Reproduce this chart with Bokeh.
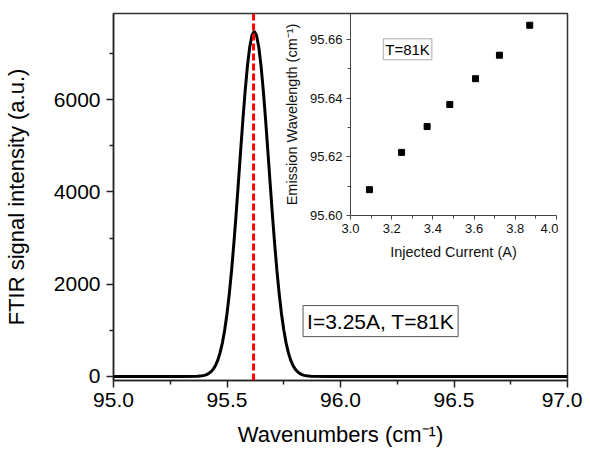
from bokeh.plotting import figure
from bokeh.models import Range1d, FixedTicker, PrintfTickFormatter, Span, Label
from bokeh.embed import file_html
from bokeh.resources import INLINE

# ---- data: FTIR spectrum ----
wavenumber = [95.00, 95.20, 95.30, 95.37, 95.38, 95.39, 95.40, 95.41, 95.42, 95.43, 95.44,
              95.45, 95.46, 95.47, 95.48, 95.49, 95.50, 95.51, 95.52, 95.53, 95.54,
              95.55, 95.56, 95.57, 95.58, 95.59, 95.60, 95.61, 95.62, 95.63, 95.64,
              95.65, 95.66, 95.67, 95.68, 95.69, 95.70, 95.71, 95.72, 95.73, 95.74,
              95.75, 95.76, 95.77, 95.78, 95.79, 95.80, 95.81, 95.82, 95.83, 95.84,
              95.85, 95.86, 95.87, 95.95, 96.20, 96.60, 97.00]
intensity = [0, 0, 2, 5, 8, 14, 24, 40, 66, 105, 162,
             245, 361, 522, 735, 1012, 1361, 1786, 2291, 2866, 3508,
             4188, 4885, 5563, 6189, 6724, 7135, 7392, 7480, 7392, 7135,
             6724, 6189, 5563, 4885, 4188, 3508, 2866, 2291, 1786, 1361,
             1012, 735, 522, 361, 245, 162, 105, 66, 40, 24,
             14, 8, 5, 1, 0, 0, 0]
peak_position = 95.617

main_x_ticks = [95.0, 95.5, 96.0, 96.5, 97.0]
main_x_minor = [95.25, 95.75, 96.25, 96.75]
main_y_ticks = [0, 2000, 4000, 6000]
main_y_minor = [1000, 3000, 5000, 7000]

# ---- data: inset ----
current = [3.092, 3.248, 3.372, 3.482, 3.607, 3.723, 3.870]
emission = [95.6088, 95.6215, 95.6303, 95.6378, 95.6466, 95.6546, 95.6648]
inset_x_ticks = [3.0, 3.2, 3.4, 3.6, 3.8, 4.0]
inset_x_minor = [3.1, 3.3, 3.5, 3.7, 3.9]
inset_y_ticks = [95.60, 95.62, 95.64, 95.66]
inset_y_minor = [95.61, 95.63, 95.65]

FONT = "Liberation Sans"
AX = "#222222"

p = figure(width=582, height=451, output_backend="svg", toolbar_location=None,
           x_range=Range1d(95.0, 97.0), y_range=Range1d(-87, 7865),
           min_border_left=112, min_border_right=15, min_border_top=13, min_border_bottom=71)
p.grid.visible = False
p.outline_line_color = "#333333"
p.outline_line_width = 1.5
p.background_fill_color = "white"

p.line(wavenumber, intensity, line_color="black", line_width=3)
p.add_layout(Span(location=peak_position, dimension="height", line_color="#ff0000",
                  line_width=3, line_dash="7 3"))

for ax in (p.xaxis[0], p.yaxis[0]):
    ax.axis_line_color = AX
    ax.axis_line_width = 1.5
    ax.major_tick_line_color = AX
    ax.minor_tick_line_color = AX
    ax.major_tick_line_width = 1.5
    ax.minor_tick_line_width = 1.5
    ax.major_tick_out = 7
    ax.major_tick_in = 0
    ax.minor_tick_out = 4
    ax.minor_tick_in = 0
    ax.major_label_text_font = FONT
    ax.major_label_text_font_size = "21px"
    ax.major_label_text_color = "black"
    ax.axis_label_text_font = FONT
    ax.axis_label_text_font_size = "22px"
    ax.axis_label_text_font_style = "normal"
    ax.axis_label_text_color = "black"

p.xaxis.ticker = FixedTicker(ticks=main_x_ticks, minor_ticks=main_x_minor)
p.xaxis.formatter = PrintfTickFormatter(format="%.1f")
p.xaxis.axis_label = "Wavenumbers (cm\u207b\u00b9)"
p.xaxis.major_label_standoff = 5
p.xaxis.axis_label_standoff = 12

p.yaxis.ticker = FixedTicker(ticks=main_y_ticks, minor_ticks=main_y_minor)
p.yaxis.formatter = PrintfTickFormatter(format="%d")
p.yaxis.axis_label = "FTIR signal intensity (a.u.)"
p.yaxis.major_label_standoff = 6
p.yaxis.axis_label_standoff = 22

p.add_layout(Label(x=95.835, y=1200, text="I=3.25A, T=81K", text_font=FONT,
                   text_font_size="21px", text_baseline="middle", text_color="black",
                   border_line_color="#555555", border_line_width=1,
                   background_fill_color="white", padding=4))

# ---- inset ----
q = figure(width=280, height=257, output_backend="svg", toolbar_location=None,
           x_range=Range1d(3.0, 4.0), y_range=Range1d(95.60, 95.6688),
           min_border_left=72, min_border_right=2, min_border_top=5, min_border_bottom=50,
           styles={"position": "absolute", "left": "278px", "top": "8px"})
q.grid.visible = False
q.outline_line_color = None
q.background_fill_alpha = 0
q.border_fill_alpha = 0

q.scatter(current, emission, marker="square", size=6, color="black")

for ax in (q.xaxis[0], q.yaxis[0]):
    ax.axis_line_color = "#444444"
    ax.axis_line_width = 1
    ax.major_tick_line_color = "#444444"
    ax.minor_tick_line_color = "#444444"
    ax.major_tick_out = 4
    ax.major_tick_in = 0
    ax.minor_tick_out = 3
    ax.minor_tick_in = 0
    ax.major_label_text_font = FONT
    ax.major_label_text_font_size = "13px"
    ax.major_label_text_color = "#111111"
    ax.axis_label_text_font = FONT
    ax.axis_label_text_font_size = "14.5px"
    ax.axis_label_text_font_style = "normal"
    ax.axis_label_text_color = "#111111"

q.xaxis.ticker = FixedTicker(ticks=inset_x_ticks, minor_ticks=inset_x_minor)
q.xaxis.formatter = PrintfTickFormatter(format="%.1f")
q.xaxis.axis_label = "Injected Current (A)"
q.xaxis.major_label_standoff = 4
q.xaxis.axis_label_standoff = 8

q.yaxis.ticker = FixedTicker(ticks=inset_y_ticks, minor_ticks=inset_y_minor)
q.yaxis.formatter = PrintfTickFormatter(format="%.2f")
q.yaxis.axis_label = "Emission Wavelength (cm\u207b\u00b9)"
q.yaxis.major_label_standoff = 4
q.yaxis.axis_label_standoff = 7

q.add_layout(Label(x=3.159, y=95.6566, text="T=81K", text_font=FONT,
                   text_font_size="15px", text_baseline="middle", text_color="black",
                   border_line_color="#aaaaaa", border_line_width=1,
                   background_fill_color="white", padding=2))

open("out.html", "w").write(file_html([p, q], INLINE, title="FTIR"))
